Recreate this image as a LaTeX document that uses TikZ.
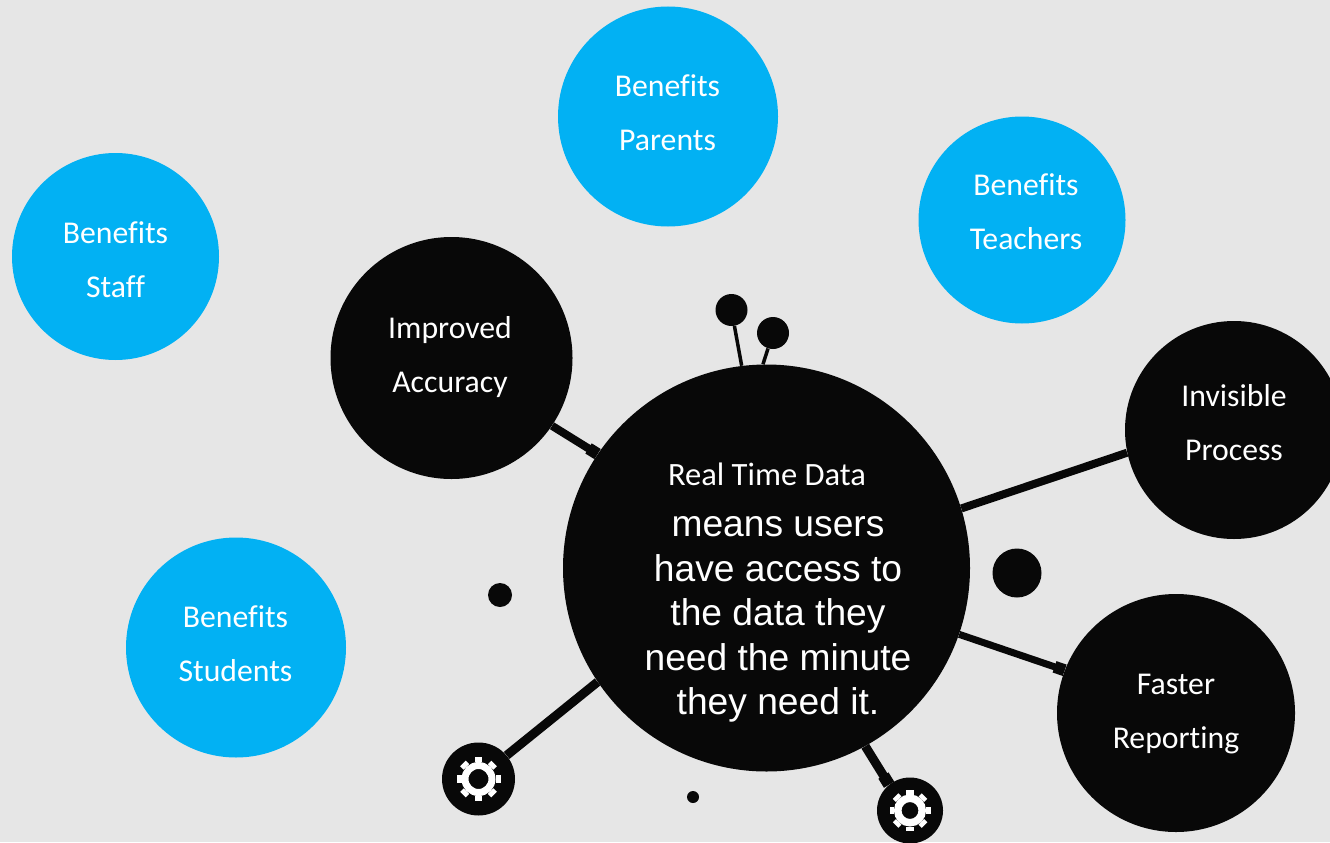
\documentclass[tikz,border=0pt]{standalone}
\usepackage{fontspec}
\setmainfont{Carlito}[Ligatures={NoCommon}]
\newfontfamily\bodyfont{Liberation Sans}
\usetikzlibrary{arrows.meta}
\definecolor{bg}{HTML}{E6E6E6}
\definecolor{ink}{HTML}{080808}
\definecolor{sky}{HTML}{02B1F3}
\newcommand{\gearat}[4]{% name, outer, ring, hole
  \begin{scope}[shift={(#1.center)}]
  \foreach \a in {0,45,...,315}{
    \fill[white,rotate=\a] (-3.9,-#2) rectangle (3.9,-#3);
  }
  \draw[white,line width=#3*0.75pt-#4*0.75pt] (0,0) circle[radius=0.5*#3+0.5*#4];
  \end{scope}
}
\tikzset{
  x=0.75pt,y=-0.75pt,
  disc/.style={circle,inner sep=0pt,minimum size=#1*0.75pt},
  blue disc/.style={disc=#1,fill=sky},
  black disc/.style={disc=#1,fill=ink},
  disc text/.style={text=white,align=center,inner sep=0pt,font=\fontsize{23.8}{40.5}\selectfont},
  stem/.style={draw=ink,line width=#1*0.75pt},
  capped/.style={stem=#1,-{Square[length=8pt,width=9pt]}},
  titletext/.style={text=white,font=\fontsize{24.4}{30}\selectfont,inner sep=0pt},
  bodytext/.style={text=white,font=\bodyfont\fontsize{27.9}{33.3}\selectfont,align=center,inner sep=0pt}
}
\begin{document}
\begin{tikzpicture}
\useasboundingbox (0,0) rectangle (1330,842);
\fill[bg] (0,0) rectangle (1330,842);
\begin{scope}
\clip (0,0) rectangle (1330,842);
\node[blue disc=220] (parents) at (668,116.5) {};
\node[blue disc=207] (teachers) at (1022,220) {};
\node[blue disc=207] (staff) at (115.5,256.5) {};
\node[blue disc=220] (students) at (236,647.5) {};
\node[black disc=242] (improved) at (451.5,358) {};
\node[black disc=407] (central) at (766.5,568) {};
\node[black disc=218] (invisible) at (1234,430) {};
\node[black disc=238] (faster) at (1176,713) {};
\node[black disc=32] (dotA) at (731.5,310) {};
\node[black disc=32] (dotB) at (773,333) {};
\node[black disc=49] (dotC) at (1017,573) {};
\node[black disc=24] (dotD) at (500,595) {};
\node[black disc=12] (dotE) at (693,797) {};
\node[black disc=73] (gearA) at (478.5,779) {};
\node[black disc=66] (gearB) at (910,810.5) {};
\gearat{gearA}{22}{17}{10}
\gearat{gearB}{20.5}{16}{8.5}
\draw[stem=8] (central.17) -- (invisible.192);
\draw[capped=7] (central.-19) -- (faster.159);
\draw[capped=8] (improved.-34) -- (central.146);
\draw[stem=9] (central.214.5) -- (gearA.40);
\draw[capped=9] (central.-61.5) -- (gearB.129);
\draw[stem=3.5] (dotA) -- (central.97.2);
\draw[stem=3.5] (dotB) -- (central.91.3);
\end{scope}
\node[disc text] (parentsT) at (667.5,112.5) {Benefits\\Parents};
\node[disc text] (teachersT) at (1026,211.5) {Benefits\\Teachers};
\node[disc text] (staffT) at (115.5,260) {Benefits\\Staff};
\node[disc text] (studentsT) at (235.5,643.5) {Benefits\\Students};
\node[disc text] (improvedT) at (450,357.5) {Improved\\Accuracy};
\node[disc text] (invisibleT) at (1234,422.5) {Invisible\\Process};
\node[disc text] (fasterT) at (1176,714) {Faster\\Reporting};
\node[titletext] (title) at (767,474.5) {Real Time Data};
\node[bodytext] (body) at (778,619.5) {means users\\have access to\\the data they\\need the minute\\they need it.};
\end{tikzpicture}
\end{document}
